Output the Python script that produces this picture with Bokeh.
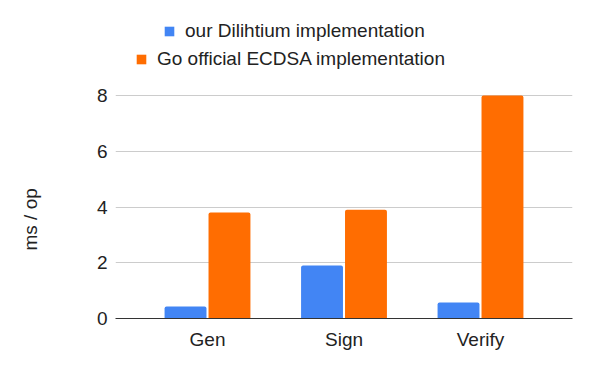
from bokeh.plotting import figure
from bokeh.models import ColumnDataSource, FactorRange, Legend, LegendItem, FixedTicker, Range1d, Title
from bokeh.transform import dodge
from bokeh.embed import file_html
from bokeh.resources import INLINE

categories = ["Gen", "Sign", "Verify"]
dilithium = [0.43, 1.9, 0.57]
ecdsa = [3.8, 3.9, 8.0]
series_names = ["our Dilihtium implementation", "Go official ECDSA implementation"]
y_ticks = [0, 2, 4, 6, 8]

BLUE = "#4285F4"
ORANGE = "#FF6D01"
FONT = "Liberation Sans"
TXT = "#222222"

src = ColumnDataSource(dict(cat=categories, a=dilithium, b=ecdsa))

# frame spans the full height above the axis so the legend rows can sit inside it
p = figure(width=590, height=371, output_backend="svg", toolbar_location=None,
           x_range=FactorRange(factors=categories, range_padding=0.174,
                               range_padding_units="absolute"),
           y_range=Range1d(0, 8 * 318 / 223),
           min_border_left=115, min_border_right=18, min_border_top=0,
           min_border_bottom=53)
p.outline_line_color = None
p.background_fill_color = "white"
p.border_fill_color = "white"

r1 = p.vbar(x=dodge("cat", -0.161, range=p.x_range), top="a", width=0.307,
            source=src, fill_color=BLUE, line_color=None, border_radius=(2, 2, 0, 0))
r2 = p.vbar(x=dodge("cat", 0.161, range=p.x_range), top="b", width=0.307,
            source=src, fill_color=ORANGE, line_color=None, border_radius=(2, 2, 0, 0))

p.xgrid.grid_line_color = None
p.ygrid.grid_line_color = "#cccccc"
p.yaxis.ticker = FixedTicker(ticks=y_ticks)

for ax in (p.xaxis[0], p.yaxis[0]):
    ax.major_tick_line_color = None
    ax.minor_tick_line_color = None
    ax.major_tick_out = 0
    ax.major_tick_in = 0
    ax.minor_tick_out = 0
    ax.major_label_text_font = FONT
    ax.major_label_text_font_size = "19px"
    ax.major_label_text_color = TXT
p.yaxis.axis_line_color = None
p.xaxis.axis_line_color = "#333333"
p.xaxis.major_label_standoff = 10
p.yaxis.major_label_standoff = 8

# blank spacer between tick labels and the y-axis title
spacer = Title(text=" ", align="left", standoff=30,
               text_font=FONT, text_font_size="19px")
p.add_layout(spacer, "left")
ylab = Title(text="ms / op", align="left", offset=68, standoff=0,
             text_font=FONT, text_font_size="19px", text_font_style="normal",
             text_color=TXT)
p.add_layout(ylab, "left")

def make_legend(renderer, label, loc):
    leg = Legend(items=[LegendItem(label=label, renderers=[renderer])],
                 location=loc, orientation="horizontal",
                 padding=0, spacing=0, margin=0,
                 glyph_width=12, glyph_height=12, label_height=20,
                 label_standoff=10,
                 label_text_font=FONT, label_text_font_size="19px",
                 label_text_color=TXT,
                 border_line_color=None, background_fill_alpha=0)
    p.add_layout(leg, "center")

make_legend(r1, series_names[0], (48, 276))
make_legend(r2, series_names[1], (20, 248))

open("out.html", "w").write(file_html(p, INLINE))
